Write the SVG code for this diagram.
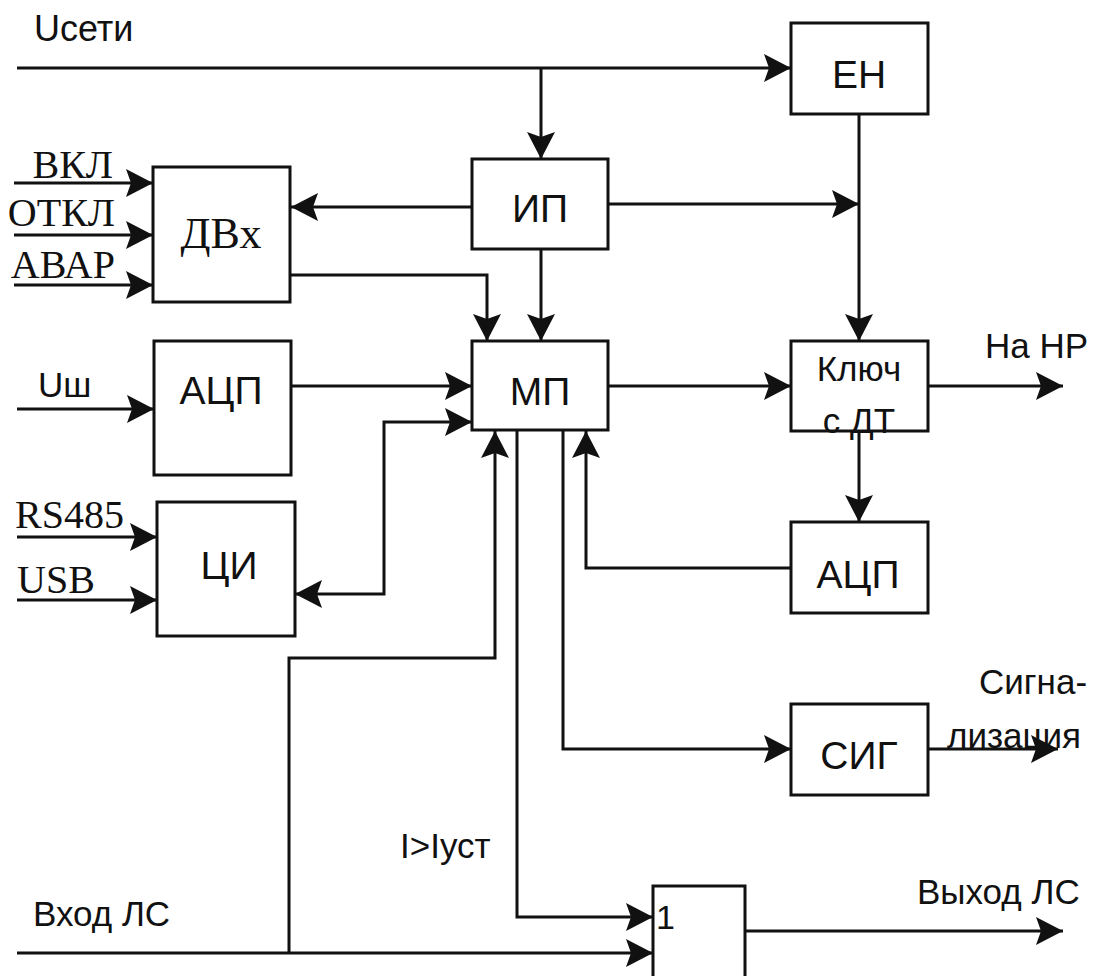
<svg xmlns="http://www.w3.org/2000/svg" width="1098" height="976" viewBox="0 0 1098 976">
<style>
.box{fill:#fff;stroke:#111;stroke-width:3}
.ln{fill:none;stroke:#111;stroke-width:3}
.ar{marker-end:url(#ah)}
.bi{marker-start:url(#ah);marker-end:url(#ah)}
.t{font-family:"Liberation Sans",Arial,sans-serif;font-size:39px;fill:#111}
.tc{text-anchor:middle}
.lb{font-family:"Liberation Sans",Arial,sans-serif;font-size:35px;fill:#111}
.sf{font-family:"Liberation Serif","Times New Roman",serif;font-size:40px;fill:#111}
</style>
<defs>
<marker id="ah" markerUnits="userSpaceOnUse" markerWidth="30" markerHeight="32" viewBox="0 -16 30 32" refX="27" refY="0" orient="auto-start-reverse">
<path d="M0,-14 L27,0 L0,14 L5,0 Z" fill="#111"/>
</marker>
</defs>
<rect width="1098" height="976" fill="#fff"/>
<g id="connectors">
<path class="ln ar" d="M17,68 H791"/>
<path class="ln ar" d="M541,68 V159"/>
<path class="ln ar" d="M472,207 H291"/>
<path class="ln ar" d="M608,204 H859"/>
<path class="ln ar" d="M859,114 V341"/>
<path class="ln ar" d="M290,275 H487 V341"/>
<path class="ln ar" d="M541,249 V341"/>
<path class="ln ar" d="M14,183 H153"/>
<path class="ln ar" d="M14,235 H153"/>
<path class="ln ar" d="M14,285 H153"/>
<path class="ln ar" d="M17,409 H154"/>
<path class="ln ar" d="M291,386 H472"/>
<path class="ln bi" d="M295,594 H384 V422 H472"/>
<path class="ln ar" d="M17,537 H157"/>
<path class="ln ar" d="M17,600 H157"/>
<path class="ln ar" d="M608,386 H791"/>
<path class="ln ar" d="M928,386 H1063"/>
<path class="ln ar" d="M859,431 V522"/>
<path class="ln ar" d="M791,568 H586 V431"/>
<path class="ln ar" d="M563,431 V749 H791"/>
<path class="ln ar" d="M928,749 H1058"/>
<path class="ln ar" d="M17,953 H653"/>
<path class="ln ar" d="M289,953 V658 H495 V431"/>
<path class="ln ar" d="M517,431 V917 H653"/>
<path class="ln ar" d="M745,931 H1063"/>
</g>
<g id="EN"><rect class="box" x="791" y="23" width="137" height="91"/><text class="t tc" x="859" y="88">ЕН</text></g>
<g id="IP"><rect class="box" x="472" y="159" width="136" height="90"/><text class="t tc" x="540" y="222">ИП</text></g>
<g id="DVx"><rect class="box" x="153" y="167" width="137" height="135"/><text class="sf tc" x="221" y="248" style="font-size:44px">ДВх</text></g>
<g id="MP"><rect class="box" x="472" y="341" width="136" height="89"/><text class="t tc" x="540" y="405">МП</text></g>
<g id="ADC1"><rect class="box" x="154" y="341" width="137" height="134"/><text class="t tc" x="221" y="404">АЦП</text></g>
<g id="CI"><rect class="box" x="157" y="502" width="138" height="134"/><text class="t tc" x="229" y="579">ЦИ</text></g>
<g id="KEY"><rect class="box" x="791" y="341" width="137" height="90"/><text class="lb tc" x="859" y="381">Ключ</text><text class="lb tc" x="859" y="433">с ДТ</text></g>
<g id="ADC2"><rect class="box" x="791" y="522" width="137" height="91"/><text class="t tc" x="858" y="588">АЦП</text></g>
<g id="SIG"><rect class="box" x="791" y="704" width="137" height="91"/><text class="t tc" x="859" y="769">СИГ</text></g>
<g id="OR"><rect class="box" x="653" y="886" width="92" height="100"/><text class="lb" x="656" y="929" style="font-size:34px">1</text></g>
<g id="labels">
<text class="lb" x="34" y="41" style="font-size:36px">Uсети</text>
<text class="sf" x="113" y="178" text-anchor="end">ВКЛ</text>
<text class="sf" x="115" y="226" text-anchor="end">ОТКЛ</text>
<text class="sf" x="115" y="278" text-anchor="end">АВАР</text>
<text class="lb" x="38" y="397">Uш</text>
<text class="sf" x="15" y="528">RS485</text>
<text class="sf" x="17" y="593">USB</text>
<text class="lb" x="400" y="858">I&gt;Iуст</text>
<text class="lb" x="33" y="926">Вход ЛС</text>
<text class="lb" x="985" y="358">На НР</text>
<text class="lb" x="979" y="694">Сигна-</text>
<text class="lb" x="947" y="748">лизация</text>
<text class="lb" x="917" y="904">Выход ЛС</text>
</g>
</svg>
